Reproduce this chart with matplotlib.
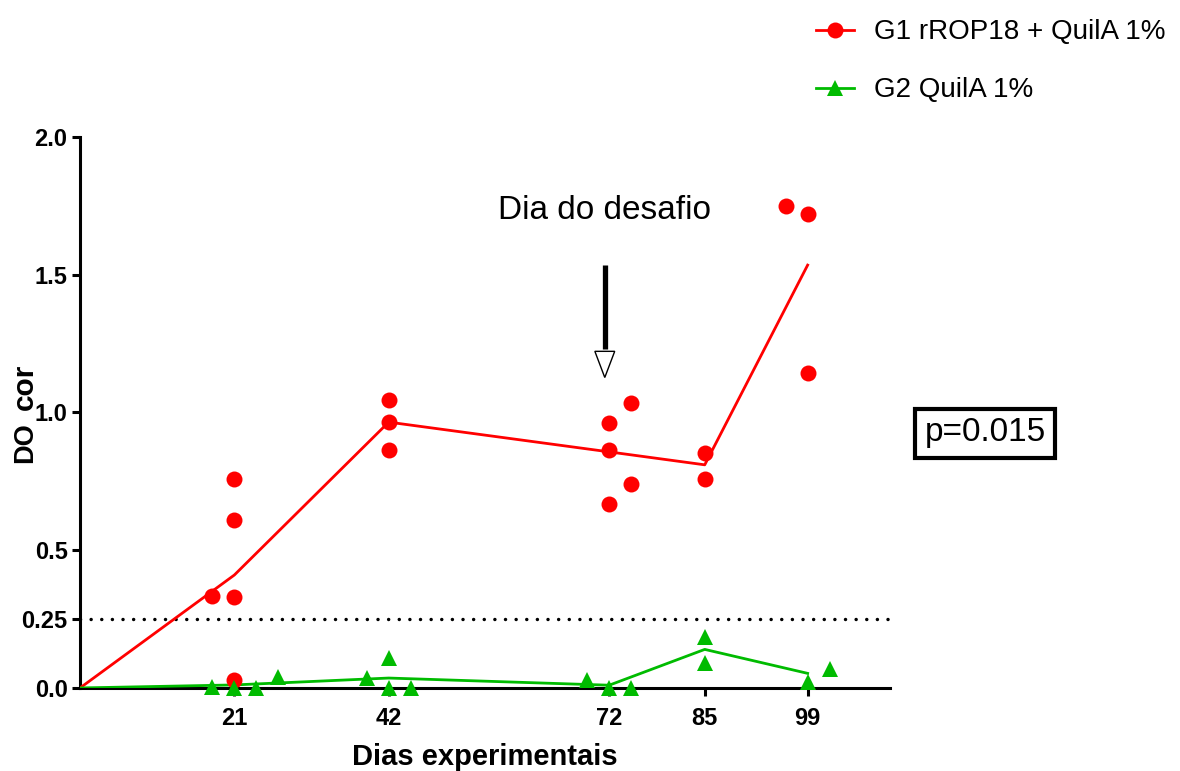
import numpy as np
import matplotlib.pyplot as plt
from matplotlib.lines import Line2D
from matplotlib.patches import Polygon

plt.rcParams['font.family'] = ['Liberation Sans', 'DejaVu Sans']

# mean curves
days = [0, 21, 42, 72, 85, 99]
g1_mean = [0, 0.41, 0.965, 0.857, 0.81, 1.535]
g2_mean = [0, 0.011, 0.036, 0.01, 0.14, 0.053]

# individual animals
g1_x = [18, 21, 21, 21, 21, 42, 42, 42, 72, 72, 72, 75, 75, 85, 85, 96, 99, 99]
g1_y = [0.335, 0.76, 0.61, 0.33, 0.028, 1.045, 0.965, 0.865,
        0.962, 0.865, 0.668, 1.035, 0.74, 0.853, 0.759, 1.75, 1.72, 1.143]
g2_x = [18, 21, 24, 27, 39, 42, 42, 45, 69, 72, 75, 85, 85, 99, 102]
g2_y = [0.005, 0, 0, 0.04, 0.035, 0.11, 0, 0, 0.03, 0, 0, 0.186, 0.09, 0.023, 0.07]

xticks = [21, 42, 72, 85, 99]
yticks = [0.0, 0.25, 0.5, 1.0, 1.5, 2.0]
ytick_labels = ['0.0', '0.25', '0.5', '1.0', '1.5', '2.0']
cutoff = 0.25
challenge_day = 71.4

red = '#ff0000'
green = '#00bb00'

fig = plt.figure(figsize=(11.8, 7.71), dpi=100)
ax = fig.add_axes([0.0678, 0.1077, 0.6864, 0.7146])

ax.plot(days, g1_mean, '-', color=red, lw=2.0, zorder=3)
ax.plot(days, g2_mean, '-', color=green, lw=2.0, zorder=3)
ax.plot(g1_x, g1_y, 'o', color=red, ms=11.5, mew=0, clip_on=False, zorder=4)
ax.plot(g2_x, g2_y, '^', color=green, ms=11, mew=0, clip_on=False, zorder=4)

ax.axhline(cutoff, color='black', lw=2.5, linestyle=(0, (0.01, 3.05)),
           dash_capstyle='round', zorder=2)

# challenge arrow
ax.plot([challenge_day, challenge_day], [1.535, 1.23], color='black', lw=3.8,
        solid_capstyle='butt')
ax.add_patch(Polygon([[challenge_day - 1.35, 1.222], [challenge_day + 1.35, 1.222],
                      [challenge_day, 1.127]], closed=True, facecolor='white',
                     edgecolor='black', lw=1, zorder=5))
ax.text(challenge_day, 1.735, 'Dia do desafio', fontsize=24, ha='center', va='center')

ax.set_xlim(0, 110.2)
ax.set_ylim(0, 2.0)
ax.set_xticks(xticks)
ax.set_yticks(yticks)
ax.set_yticklabels(ytick_labels)
for s in ['top', 'right']:
    ax.spines[s].set_visible(False)
for s in ['left', 'bottom']:
    ax.spines[s].set_linewidth(2.2)
ax.tick_params(width=2.2, length=6, labelsize=17, pad=3)
ax.tick_params(axis='x', pad=8)
for lab in ax.get_xticklabels() + ax.get_yticklabels():
    lab.set_fontweight('bold')

ax.set_xlabel('Dias experimentais', fontsize=21, fontweight='bold', labelpad=9)

# y label: DO with subscript "cor"
fig.text(32 / 1180, 1 - 443 / 771, 'DO', fontsize=19.5, fontweight='bold',
         rotation=90, rotation_mode='anchor', ha='center', va='baseline')
fig.text(33 / 1180, 1 - 387 / 771, 'cor', fontsize=21.5, fontweight='bold',
         rotation=90, rotation_mode='anchor', ha='center', va='baseline')

fig.text(985 / 1180, 1 - 433 / 771, 'p=0.015', fontsize=24, ha='center', va='center',
         bbox=dict(boxstyle='square,pad=0.27', facecolor='white',
                   edgecolor='black', lw=3))

handles = [Line2D([], [], color=red, lw=2.0, marker='o', ms=11.5, mew=0),
           Line2D([], [], color=green, lw=2.0, marker='^', ms=11, mew=0)]
fig.legend(handles, ['G1 rROP18 + QuilA 1%', 'G2 QuilA 1%'], loc='upper left',
           bbox_to_anchor=(0.675, 1.0), frameon=False, fontsize=20,
           handlelength=1.37, handletextpad=0.72, labelspacing=1.15,
           borderaxespad=0.3)

fig.savefig('out.png', dpi=100)
